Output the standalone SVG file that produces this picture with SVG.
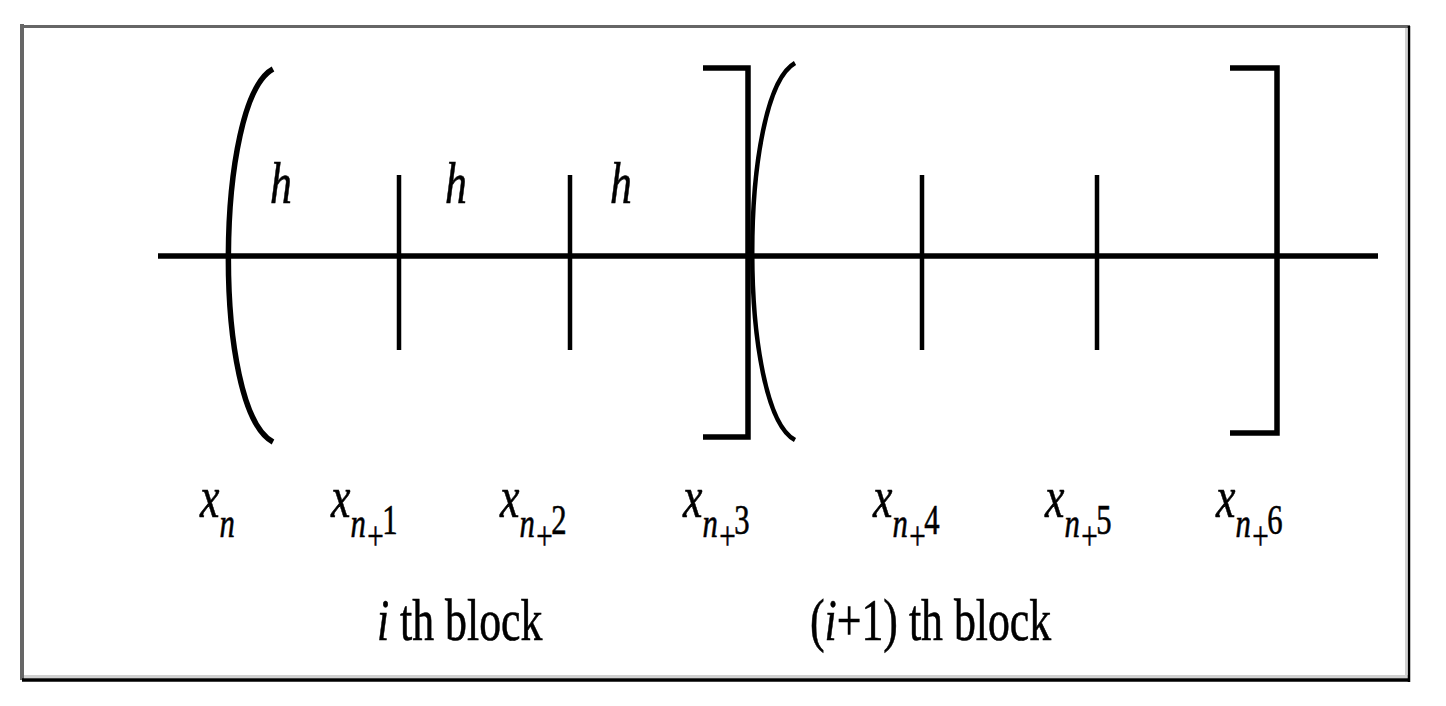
<svg xmlns="http://www.w3.org/2000/svg" width="1446" height="706" viewBox="0 0 1446 706">
<style>
.ln{stroke:#000;fill:none;stroke-width:5.5}
.tk{stroke:#000;fill:none;stroke-width:4.5}
.t{font-family:"Liberation Serif","Times New Roman",serif;font-size:60px;fill:#000;stroke:#000;stroke-width:0.6}
.it{font-style:italic}
.sub{font-size:42px}
.pl{font-size:40px;font-style:normal}
</style>
<rect width="1446" height="706" fill="#fff"/>
<g id="frame">
<line x1="1406" y1="27" x2="1406" y2="677" stroke="#d0d0d0" stroke-width="2"/>
<line x1="24" y1="676.5" x2="1408" y2="676.5" stroke="#d0d0d0" stroke-width="3"/>
<line x1="22" y1="24" x2="22" y2="680" stroke="#666" stroke-width="4"/>
<line x1="20" y1="26.5" x2="1410" y2="26.5" stroke="#666" stroke-width="3"/>
<line x1="1409" y1="26" x2="1409" y2="682" stroke="#000" stroke-width="2.5"/>
<line x1="22" y1="680" x2="1410" y2="680" stroke="#000" stroke-width="3.5"/>
</g>
<g id="axis">
<line class="ln" x1="158" y1="256" x2="1378" y2="256"/>
</g>
<g id="ticks">
<line class="tk" x1="399" y1="175" x2="399" y2="350"/>
<line class="tk" x1="570" y1="175" x2="570" y2="350"/>
<line class="tk" x1="922" y1="175" x2="922" y2="350"/>
<line class="tk" x1="1097" y1="175" x2="1097" y2="350"/>
</g>
<g id="block-i">
<path class="ln" d="M273,69 C215,100 212,410 273,442"/>
<path class="ln" d="M703,68 H748 V437 H703"/>
</g>
<g id="block-i1">
<path class="tk" d="M795,63 C738,95 738,410 795,440"/>
<path class="ln" d="M1230,68 H1277 V433 H1230"/>
</g>
<g id="h-labels">
<text class="t it" transform="translate(270,203) scale(0.73,1)">h</text>
<text class="t it" transform="translate(445,203) scale(0.73,1)">h</text>
<text class="t it" transform="translate(610,203) scale(0.73,1)">h</text>
</g>
<g id="x-labels">
<text class="t" transform="translate(200,517) scale(0.73,1)"><tspan class="it">x</tspan><tspan class="it sub" dy="20">n</tspan></text>
<text class="t" transform="translate(331,517) scale(0.73,1)"><tspan class="it">x</tspan><tspan class="it sub" dy="20">n</tspan><tspan class="pl" dy="12" dx="2">+</tspan><tspan class="sub" dy="-15" dx="-2">1</tspan></text>
<text class="t" transform="translate(500,517) scale(0.73,1)"><tspan class="it">x</tspan><tspan class="it sub" dy="20">n</tspan><tspan class="pl" dy="12" dx="2">+</tspan><tspan class="sub" dy="-15" dx="-2">2</tspan></text>
<text class="t" transform="translate(683,517) scale(0.73,1)"><tspan class="it">x</tspan><tspan class="it sub" dy="20">n</tspan><tspan class="pl" dy="12" dx="2">+</tspan><tspan class="sub" dy="-15" dx="-2">3</tspan></text>
<text class="t" transform="translate(873,517) scale(0.73,1)"><tspan class="it">x</tspan><tspan class="it sub" dy="20">n</tspan><tspan class="pl" dy="12" dx="2">+</tspan><tspan class="sub" dy="-15" dx="-2">4</tspan></text>
<text class="t" transform="translate(1045,517) scale(0.73,1)"><tspan class="it">x</tspan><tspan class="it sub" dy="20">n</tspan><tspan class="pl" dy="12" dx="2">+</tspan><tspan class="sub" dy="-15" dx="-2">5</tspan></text>
<text class="t" transform="translate(1216,517) scale(0.73,1)"><tspan class="it">x</tspan><tspan class="it sub" dy="20">n</tspan><tspan class="pl" dy="12" dx="2">+</tspan><tspan class="sub" dy="-15" dx="-2">6</tspan></text>
</g>
<g id="block-labels">
<text class="t" transform="translate(377,640) scale(0.73,1)"><tspan class="it">i</tspan> th block</text>
<text class="t" transform="translate(810,640) scale(0.73,1)">(<tspan class="it">i</tspan>+1) th block</text>
</g>
</svg>
